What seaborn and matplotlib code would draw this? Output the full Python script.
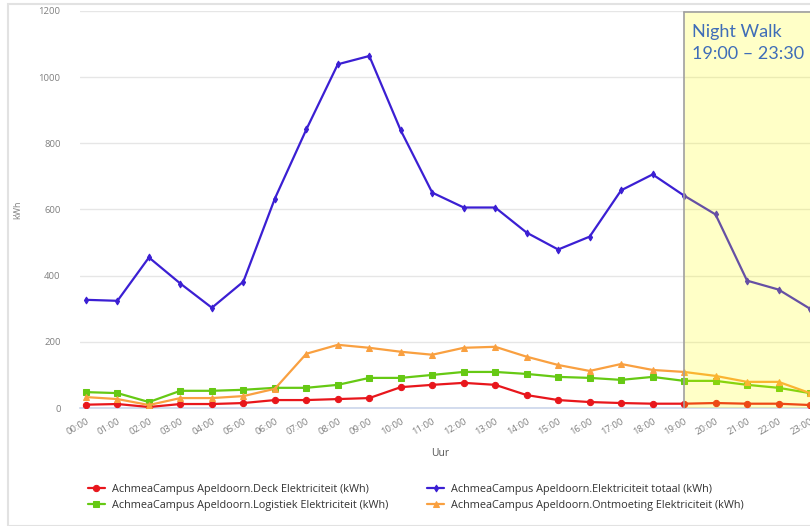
import numpy as np
import pandas as pd
import matplotlib
matplotlib.use("Agg")
import matplotlib.pyplot as plt
from matplotlib.patches import Rectangle
import seaborn as sns

sns.set_style("white")
plt.rcParams['font.family'] = ['Open Sans', 'DejaVu Sans']

uren = ['%02d:00' % h for h in range(24)]

deck = [10, 12, 3, 12, 12, 15, 24, 24, 27, 30, 63, 70, 76, 70, 39, 24, 18, 15,
        13, 13, 15, 13, 13, 9]
totaal = [327, 324, 455, 376, 303, 382, 633, 842, 1039, 1064, 839, 651, 606, 606,
          530, 479, 518, 658, 706, 642, 585, 385, 358, 300]
logistiek = [48, 45, 18, 52, 52, 55, 61, 61, 70, 91, 91, 100, 109, 109, 103, 94,
             91, 85, 94, 82, 82, 70, 61, 45]
ontmoeting = [33, 27, 9, 30, 30, 36, 58, 164, 191, 182, 170, 161, 182, 185, 155,
              130, 112, 133, 115, 109, 97, 79, 79, 45]

series = [
    ('AchmeaCampus Apeldoorn.Deck Elektriciteit (kWh)', deck, '#e8161c', 'o', 4.5),
    ('AchmeaCampus Apeldoorn.Logistiek Elektriciteit (kWh)', logistiek, '#66c914', 's', 4.5),
    ('AchmeaCampus Apeldoorn.Elektriciteit totaal (kWh)', totaal, '#3b1fd3', 'd', 3.5),
    ('AchmeaCampus Apeldoorn.Ontmoeting Elektriciteit (kWh)', ontmoeting, '#f9a040', '^', 4.5),
]

fig = plt.figure(figsize=(8.1, 5.26), dpi=100)
ax = fig.add_axes([80 / 810, 1 - 408 / 526, 730 / 810, 397 / 526])

x = np.arange(24)
for name, vals, col, mk, ms in series:
    df = pd.DataFrame({'uur': x, 'kwh': vals})
    sns.lineplot(data=df, x='uur', y='kwh', ax=ax, color=col, marker=mk,
                 markersize=ms, markeredgecolor=col, linewidth=1.6, label=name,
                 legend=False, zorder=3)

ax.set_xlim(-0.19, 22.91)
ax.set_ylim(0, 1200)
ax.set_yticks(range(0, 1201, 200))
ax.set_xticks(x)
ax.set_xticklabels(uren, rotation=30, ha='right', rotation_mode='anchor')
ax.tick_params(axis='x', colors='#808080', labelsize=6.8, length=0, pad=6)
ax.tick_params(axis='y', colors='#808080', labelsize=6.8, length=0, pad=14)
ax.yaxis.grid(True, color='#e6e6e6', linewidth=1)
ax.set_axisbelow(True)
for s in ['top', 'right', 'left']:
    ax.spines[s].set_visible(False)
ax.spines['bottom'].set_color('#ccd6eb')
ax.spines['bottom'].set_linewidth(1.2)
ax.set_ylabel('kWh', fontsize=6.5, color='#808080', labelpad=12)
ax.set_xlabel('Uur', fontsize=7.5, color='#555555')
ax.xaxis.set_label_coords((440 - 80) / 730, -(448 - 408) / 397)

# night walk overlay
box = Rectangle((19, 0), 10, 1197, facecolor='#ffff00', alpha=0.22,
                edgecolor='none', zorder=5, clip_on=True)
ax.add_patch(box)
ax.plot([19, 19], [0, 1197], color='#a0a0a0', linewidth=1.2, zorder=6)
ax.plot([19, 23.5], [1197, 1197], color='#a0a0a0', linewidth=1.2, zorder=6)
ax.text(19.25, 1160, 'Night Walk\n19:00 \u2013 23:30', fontsize=13, color='#3f6db8',
        va='top', ha='left', linespacing=1.45, family=['Lato', 'DejaVu Sans'], zorder=7)

# outer chart frame
fig.add_artist(Rectangle((8 / 810, 0.0), 1.0, 1 - 4 / 526, transform=fig.transFigure,
                         facecolor='none', edgecolor='#e2e2e2', linewidth=1.5))

h, l = ax.get_legend_handles_labels()
fig.legend(h, l, ncol=2, loc='upper left', bbox_to_anchor=(78 / 810, 1 - 474 / 526),
           frameon=False, fontsize=7.8, labelcolor='#333333', handlelength=1.6,
           columnspacing=3.6, handletextpad=0.6, labelspacing=0.45)

fig.savefig('out.png', dpi=100)
